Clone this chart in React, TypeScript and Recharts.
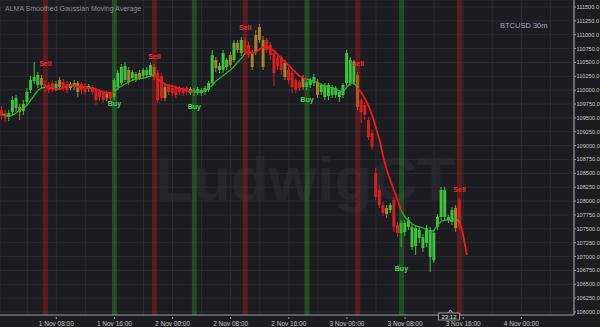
import React from 'react';
import { ComposedChart, Bar, Line, XAxis, YAxis, CartesianGrid, ReferenceLine, ReferenceDot } from 'recharts';

const W = 600;
const H = 327;
const BG = '#1c1c21';
const GREEN = '#3fc23f';
const RED = '#d42020';
const ORANGE = '#a8822c';
const FONT = '"Liberation Sans", Arial, sans-serif';

const SLOTS = 158;

const opens = [
  109642, 109588, 109516, 109606, 109678, 109696, 109624, 109787, 110003, 110165,
  110093, 110219, 110111, 110093, 110129, 110039, 110183, 110147, 110111, 110039,
  110129, 110129, 110111, 110075, 110021, 110057, 110003, 109967, 109949, 109949,
  109931, 109876, 110057, 110129, 110183, 110364, 110219, 110201, 110310, 110256,
  110274, 110274, 110418, 110310, 110256, 110057, 110075, 110039, 110057, 110039,
  110021, 110039, 109949, 109949, 109967, 109949, 109967, 110003, 110129, 110544,
  110364, 110364, 110418, 110634, 110544, 110851, 110670, 110905, 110815, 110670,
  110995, 111139, 110905, 110905, 110815, 110670, 110580, 110598, 110490, 110364,
  110310, 110183, 110147, 110219, 110057, 110093, 110129, 110147, 109967, 109876,
  109895, 109913, 109913, 109876, 109913, 110129, 110129, 110147, 110274, 109823,
  109733, 109462, 109228, 108506, 108200, 107929, 107875, 107839, 108019, 107569,
  107424, 107442, 107533, 107172, 107190, 107334, 107154, 107244, 106992, 106937,
  107533, 107713, 107713, 107659, 107623, 107875, 108019,
];
const highs = [
  109714, 109642, 109642, 109895, 109913, 109751, 109823, 110039, 110256, 110508,
  110328, 110274, 110183, 110147, 110183, 110165, 110237, 110201, 110165, 110147,
  110183, 110165, 110147, 110129, 110111, 110093, 110039, 110021, 109985, 109985,
  109967, 110219, 110364, 110472, 110508, 110418, 110364, 110328, 110364, 110400,
  110418, 110490, 110472, 110364, 110310, 110111, 110111, 110075, 110093, 110075,
  110057, 110075, 110057, 110039, 110057, 110039, 110075, 110165, 110724, 110598,
  110490, 110724, 110580, 110688, 110905, 110905, 110959, 110959, 110869, 110724,
  111085, 111193, 110977, 110941, 110869, 110724, 110634, 110634, 110544, 110418,
  110364, 110219, 110183, 110274, 110183, 110219, 110292, 110201, 110129, 110129,
  110129, 110093, 110075, 110003, 110129, 110724, 110598, 110544, 110328, 109858,
  109787, 109516, 109282, 108597, 108290, 107983, 107929, 107965, 108074, 107623,
  107659, 107659, 107713, 107587, 107569, 107533, 107406, 107569, 107533, 107479,
  107767, 108254, 108254, 107749, 107893, 107929, 108056,
];
const lows = [
  109462, 109426, 109444, 109552, 109606, 109462, 109552, 109733, 109949, 110111,
  110039, 110039, 109967, 109949, 109967, 109985, 110003, 109985, 109949, 110003,
  110003, 109876, 109931, 109913, 109967, 109913, 109733, 109805, 109769, 109805,
  109787, 109823, 110003, 110093, 110147, 110093, 110183, 110147, 110183, 110201,
  110219, 110237, 110183, 109769, 109805, 109805, 109913, 109895, 109858, 109913,
  109895, 109913, 109913, 109895, 109913, 109895, 109913, 109967, 110075, 110328,
  110310, 110310, 110364, 110400, 110508, 110670, 110616, 110634, 110580, 110364,
  110634, 110851, 110364, 110670, 110544, 110075, 110364, 110274, 110183, 110111,
  109949, 109949, 109985, 110003, 110003, 110039, 110075, 109858, 109913, 109823,
  109823, 109858, 109858, 109787, 109858, 110075, 110075, 110093, 109642, 109408,
  109462, 109101, 108921, 108019, 107875, 107731, 107695, 107785, 107442, 107352,
  107172, 107370, 107479, 107118, 107028, 107244, 107082, 107172, 106721, 106883,
  107479, 107659, 107659, 107605, 107569, 107442, 107479,
];
const closes = [
  109534, 109498, 109588, 109823, 109858, 109606, 109751, 109967, 110183, 110237,
  110274, 110093, 110039, 110003, 110039, 110111, 110057, 110039, 110003, 110111,
  110057, 109967, 110003, 109967, 110075, 109967, 109823, 109876, 109823, 109858,
  109840, 110183, 110310, 110418, 110436, 110147, 110328, 110292, 110219, 110364,
  110364, 110454, 110237, 109823, 109858, 109858, 109967, 109949, 109913, 109967,
  109949, 109967, 110021, 110003, 110021, 110003, 110039, 110129, 110634, 110400,
  110436, 110670, 110544, 110454, 110851, 110724, 110905, 110688, 110634, 110418,
  110688, 110905, 110418, 110724, 110634, 110310, 110436, 110364, 110237, 110183,
  110057, 110003, 110039, 110057, 110147, 110183, 110237, 109913, 110093, 110093,
  110093, 110057, 110039, 109967, 110093, 110670, 110544, 110508, 109696, 109606,
  109552, 109155, 108976, 108074, 107929, 107785, 107767, 107929, 107533, 107424,
  107605, 107605, 107659, 107533, 107515, 107479, 107352, 107515, 107479, 107424,
  107713, 108200, 108200, 107713, 107839, 107515, 107533,
];
// g = green bar, r = red bar, o = orange bar (indicator bar colouring)
const tones = (
  'rrgggogggg' + 'gorrrgorrg' + 'oorrgrrrro' + 'rggggoggog' + 'ggorrorrrr' +
  'rrgggggggo' + 'gggogogrro' + 'ooorrrrror' + 'rrrogggogg' + 'ggggggggor' +
  'rrrrrrogrr' + 'gggggggggg' + 'gggggor'
).split('');

const maValues = [
  109570, 109552, 109534, 109552, 109588, 109642, 109678, 109733, 109823, 109913,
  110003, 110039, 110057, 110039, 110030, 110021, 110021, 110039, 110075, 110093,
  110075, 110057, 110057, 110048, 110039, 110039, 110012, 109985, 109967, 109949,
  109949, 109967, 110039, 110075, 110111, 110147, 110183, 110201, 110210, 110219,
  110237, 110256, 110274, 110201, 110147, 110111, 110084, 110075, 110048, 110030,
  110021, 109994, 109976, 109967, 109967, 109967, 109985, 110039, 110093, 110165,
  110219, 110265, 110319, 110364, 110436, 110508, 110580, 110670, 110688, 110670,
  110688, 110742, 110778, 110778, 110751, 110706, 110634, 110562, 110508, 110445,
  110373, 110310, 110256, 110219, 110201, 110183, 110165, 110129, 110102, 110075,
  110057, 110039, 110012, 109985, 109976, 110057, 110129, 110129, 110039, 109949,
  109840, 109714, 109534, 109318, 109101, 108795, 108560, 108362, 108182, 108001,
  107821, 107713, 107641, 107587, 107551, 107533, 107515, 107479, 107442, 107479,
  107569, 107641, 107659, 107659, 107659, 107695, 107623, 107388, 107028,
];

const sellIdx = [12, 42, 67, 98, 126];
const sellLabelPrice = [110472, 110598, 111121, 110472, 108200];
const buyIdx = [31, 53, 84, 110];
const buyLabelPrice = [109751, 109714, 109840, 106793];

const timeTickIdx = [15, 31, 47, 63, 79, 95, 111, 127, 143];
const timeTickLabels = ['1 Nov 08:00', '1 Nov 16:00', '2 Nov 00:00', '2 Nov 08:00', '2 Nov 16:00', '3 Nov 00:00', '3 Nov 08:00', '3 Nov 16:00', '4 Nov 00:00'];
const gridTickIdx = [7, 15, 23, 31, 39, 47, 55, 63, 71, 79, 87, 95, 103, 111, 119, 127, 135, 143, 151];

const priceTicks = [
  106000, 106250, 106500, 106750, 107000, 107250, 107500, 107750, 108000, 108250, 108500, 108750,
  109000, 109250, 109500, 109750, 110000, 110250, 110500, 110750, 111000, 111250, 111500,
];
const Y_DOMAIN: [number, number] = [105946, 111626];

// trend: red after a sell until the next buy
function isRed(k: number): boolean {
  let last = -1;
  let red = false;
  sellIdx.forEach((s) => { if (s <= k && s > last) { last = s; red = true; } });
  buyIdx.forEach((b) => { if (b <= k && b > last) { last = b; red = false; } });
  return red;
}

const data = Array.from({ length: SLOTS }, (_, k) => {
  const has = k < opens.length;
  const ma = k < maValues.length ? maValues[k] : null;
  const red = isRed(k);
  const prevRed = k > 0 ? isRed(k - 1) : red;
  return {
    i: k,
    range: has ? [lows[k], highs[k]] : null,
    o: has ? opens[k] : null,
    h: has ? highs[k] : null,
    l: has ? lows[k] : null,
    c: has ? closes[k] : null,
    tone: has ? tones[k] : null,
    maG: ma != null && (!red || !prevRed) ? ma : null,
    maR: ma != null && (red || prevRed) ? ma : null,
  };
});

const Candle = (props: any) => {
  const { x, y, width, height, payload } = props;
  if (!payload || payload.range == null || x == null) return null;
  const { o, h, l, c, tone } = payload;
  const top = Math.min(y, y + height);
  const hh = Math.abs(height);
  const span = h - l || 1;
  const k = hh / span;
  const yO = top + (h - o) * k;
  const yC = top + (h - c) * k;
  const bTop = Math.min(yO, yC);
  const bH = Math.max(1, Math.abs(yO - yC));
  const color = tone === 'g' ? GREEN : tone === 'r' ? RED : ORANGE;
  const cx = x + width / 2;
  return (
    <g>
      <line x1={cx} x2={cx} y1={top} y2={top + hh} stroke={color} strokeWidth={1} />
      <rect x={x} y={bTop} width={width} height={bH} fill={color} />
    </g>
  );
};

const TimeTick = (props: any) => {
  const { x, y, payload } = props;
  const idx = timeTickIdx.indexOf(payload.value);
  if (idx < 0) return null;
  return (
    <g>
      <line x1={x} x2={x} y1={y} y2={y + 2} stroke="#9a9a9a" />
      <text x={x} y={y + 9} textAnchor="middle" fill="#c9c9c9" fontSize={6.5} fontFamily={FONT}>
        {timeTickLabels[idx]}
      </text>
    </g>
  );
};

export default function App() {
  return (
    <div style={{ position: 'fixed', left: 0, top: 0, width: W, height: H, background: BG, overflow: 'hidden' }}>
      <svg width={W} height={H} style={{ position: 'absolute', left: 0, top: 0 }}>
        <text x={305} y={200} textAnchor="middle" fill="#26262c" fontSize={62} fontWeight="bold" fontFamily={FONT}>
          LudwigCT
        </text>
      </svg>
      <div style={{ position: 'absolute', left: 0, top: 0 }}>
        <ComposedChart width={W} height={H} data={data} margin={{ top: 0, right: 0, bottom: 0, left: 0 }}>
          <CartesianGrid stroke="#2b2b32" strokeWidth={1} />
          {sellIdx.map((k) => (
            <ReferenceLine key={'s' + k} x={k} stroke="rgba(190,30,30,0.38)" strokeWidth={5} />
          ))}
          {buyIdx.map((k) => (
            <ReferenceLine key={'b' + k} x={k} stroke="rgba(40,160,40,0.38)" strokeWidth={5} />
          ))}
          <XAxis
            dataKey="i"
            type="category"
            ticks={gridTickIdx}
            interval={0}
            height={12}
            tickLine={false}
            tickSize={0}
            axisLine={{ stroke: '#9a9a9a' }}
            tick={<TimeTick />}
          />
          <YAxis
            orientation="right"
            width={26}
            domain={Y_DOMAIN}
            allowDataOverflow
            ticks={priceTicks}
            interval={0}
            tickSize={2}
            tickMargin={0.5}
            tickFormatter={(v: number) => v.toFixed(1)}
            tick={{ fill: '#c9c9c9', fontSize: 5.6, fontFamily: FONT, textAnchor: 'start' }}
            axisLine={{ stroke: '#b5b5b5' }}
            tickLine={{ stroke: '#9a9a9a' }}
          />
          <Bar dataKey="range" barSize={3} shape={<Candle />} isAnimationActive={false} activeBar={false} />
          <Line dataKey="maG" stroke="#34b034" strokeWidth={1.3} dot={false} activeDot={false} isAnimationActive={false} connectNulls={false} />
          <Line dataKey="maR" stroke="#ec1c1c" strokeWidth={1.8} dot={false} activeDot={false} isAnimationActive={false} connectNulls={false} />
          {sellIdx.map((k, j) => (
            <ReferenceDot key={'sl' + k} x={k} y={sellLabelPrice[j]} r={0} fill="none" stroke="none"
              label={{ value: 'Sell', position: 'center', fill: '#e23434', fontSize: 7, fontWeight: 'bold', fontFamily: FONT }} />
          ))}
          {buyIdx.map((k, j) => (
            <ReferenceDot key={'bl' + k} x={k} y={buyLabelPrice[j]} r={0} fill="none" stroke="none"
              label={{ value: 'Buy', position: 'center', fill: '#4fd44f', fontSize: 7, fontWeight: 'bold', fontFamily: FONT }} />
          ))}
        </ComposedChart>
      </div>
      <svg width={W} height={H} style={{ position: 'absolute', left: 0, top: 0, pointerEvents: 'none' }}>
        <text x={5} y={11} fill="#8e8e96" fontSize={7} fontFamily={FONT}>ALMA Smoothed Gaussian Moving Average</text>
        <text x={500} y={28} fill="#aaa2c4" fontSize={7.5} fontFamily={FONT}>BTCUSD 30m</text>
        <path d="M448 313 L450.5 310 L453 313" fill="none" stroke="#c0c0c0" strokeWidth={0.8} />
        <rect x={438.5} y={313} width={21} height={7} fill={BG} stroke="#b0b0b0" strokeWidth={0.8} />
        <text x={449} y={318.8} textAnchor="middle" fill="#e0e0e0" fontSize={6} fontFamily={FONT}>23:12</text>
      </svg>
    </div>
  );
}
